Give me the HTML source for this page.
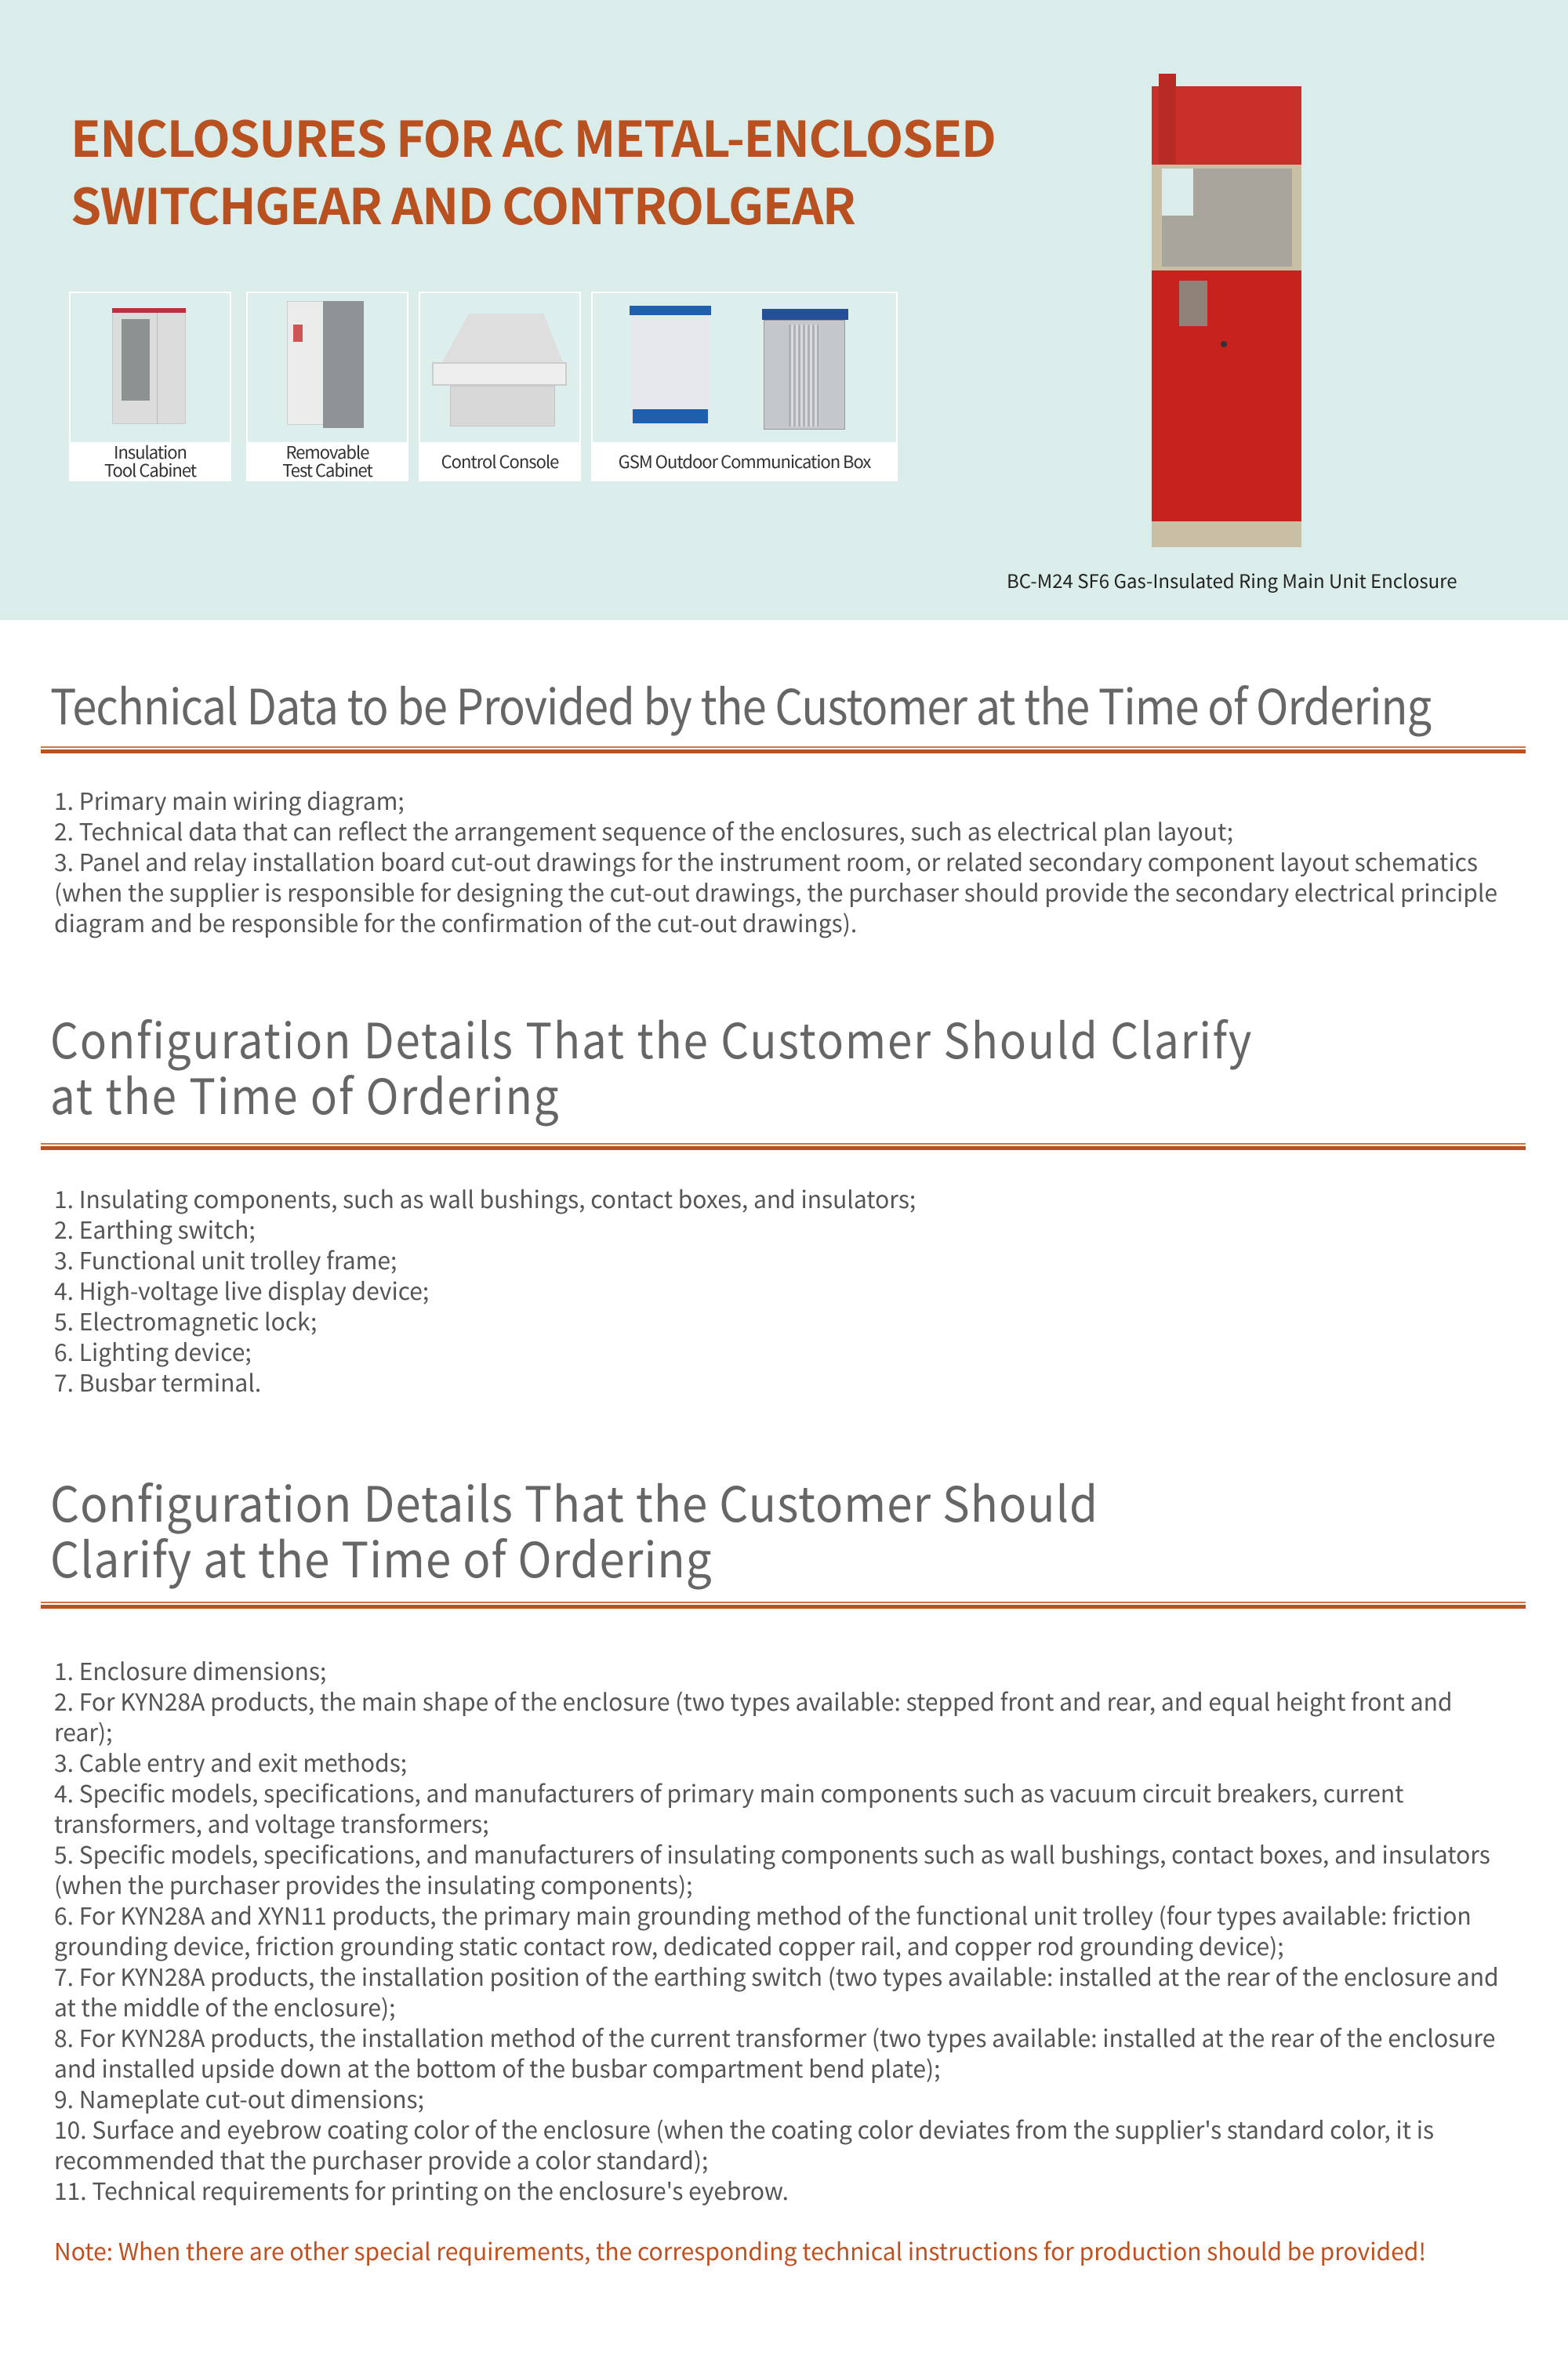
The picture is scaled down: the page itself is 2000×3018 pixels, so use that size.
<!DOCTYPE html>
<html><head><meta charset="utf-8"><style>
*{margin:0;padding:0;box-sizing:border-box}
body{width:2000px;height:3018px;background:#fff;position:relative;overflow:hidden;font-family:"Noto Sans CJK SC","Liberation Sans",sans-serif}
.abs{position:absolute}
.banner{left:0;top:0;width:2000px;height:791px;background:#daedeb}
.title{left:90px;top:131px;font-size:63px;line-height:86px;font-weight:700;color:#b8501f;white-space:nowrap;letter-spacing:-1.5px}
.card{background:#fff;border:2px solid #fff}
.card .img{position:absolute;left:0;top:0;right:0;height:190px;background:#dcefed}
.card .cap{position:absolute;left:0;right:0;top:190px;bottom:0;display:flex;align-items:center;justify-content:center;text-align:center;font-size:22px;line-height:23px;color:#333;letter-spacing:-1px}
.h{left:64px;font-size:62px;line-height:71px;color:#666;white-space:nowrap;transform-origin:0 0}
.rule{left:52px;width:1894px;height:10px}
.rule:before{content:"";position:absolute;left:0;right:0;top:0;height:2px;background:#d2743f}
.rule:after{content:"";position:absolute;left:0;right:0;top:4px;height:5px;background:#b8501f}
.list{left:69px;font-size:30px;line-height:39px;color:#555;white-space:nowrap}
</style></head><body>
<div class="abs banner"></div>
<div class="abs title">ENCLOSURES FOR AC METAL-ENCLOSED<br>SWITCHGEAR AND CONTROLGEAR</div>

<div class="abs card" style="left:88px;top:372px;width:207px;height:242px">
 <div class="img">
  <div class="abs" style="left:53px;top:19px;width:94px;height:148px;background:#dcdcdc;border:1px solid #c8c8c8"></div>
  <div class="abs" style="left:53px;top:19px;width:94px;height:6px;background:#c0303a"></div>
  <div class="abs" style="left:65px;top:33px;width:36px;height:104px;background:#8c9292"></div>
  <div class="abs" style="left:110px;top:25px;width:1px;height:142px;background:#bbb"></div>
 </div>
 <div class="cap">Insulation<br>Tool Cabinet</div>
</div>
<div class="abs card" style="left:314px;top:372px;width:207px;height:242px">
 <div class="img">
  <div class="abs" style="left:50px;top:10px;width:48px;height:158px;background:#ececec;border:1px solid #ccc"></div>
  <div class="abs" style="left:96px;top:10px;width:52px;height:162px;background:#8e9495"></div>
  <div class="abs" style="left:58px;top:40px;width:12px;height:22px;background:#c55"></div>
 </div>
 <div class="cap">Removable<br>Test Cabinet</div>
</div>
<div class="abs card" style="left:534px;top:372px;width:207px;height:242px">
 <div class="img">
  <div class="abs" style="left:28px;top:26px;width:154px;height:62px;background:#dedede;clip-path:polygon(22% 0,84% 0,100% 100%,0 100%)"></div>
  <div class="abs" style="left:15px;top:88px;width:172px;height:30px;background:#eee;border:2px solid #ccc"></div>
  <div class="abs" style="left:38px;top:118px;width:134px;height:52px;background:#d8d8d8;border:1px solid #c4c4c4"></div>
 </div>
 <div class="cap">Control Console</div>
</div>
<div class="abs card" style="left:754px;top:372px;width:391px;height:242px">
 <div class="img">
  <div class="abs" style="left:49px;top:18px;width:100px;height:150px;background:#e6e8ee;border-radius:4px"></div>
  <div class="abs" style="left:47px;top:16px;width:104px;height:12px;background:#1f5fb0"></div>
  <div class="abs" style="left:51px;top:148px;width:96px;height:18px;background:#1f5fb0"></div>
  <div class="abs" style="left:216px;top:20px;width:110px;height:14px;background:#264f9a"></div>
  <div class="abs" style="left:218px;top:34px;width:104px;height:140px;background:#c4c8cc;border:1px solid #999"></div>
  <div class="abs" style="left:250px;top:40px;width:40px;height:130px;background:repeating-linear-gradient(90deg,#aeb2b6 0 3px,#d8dadc 3px 6px)"></div>
 </div>
 <div class="cap">GSM Outdoor Communication Box</div>
</div>

<div class="abs" style="left:1469px;top:208px;width:191px;height:490px;background:#c9bfa4"></div>
<div class="abs" style="left:1482px;top:215px;width:166px;height:125px;background:#a8a59c"></div>
<div class="abs" style="left:1482px;top:215px;width:40px;height:60px;background:#daedeb"></div>
<div class="abs" style="left:1469px;top:110px;width:191px;height:100px;background:#c9302a"></div>
<div class="abs" style="left:1478px;top:94px;width:22px;height:115px;background:#b82a24"></div>
<div class="abs" style="left:1469px;top:345px;width:191px;height:320px;background:#c8221e"></div>
<div class="abs" style="left:1504px;top:358px;width:36px;height:58px;background:#8e8276"></div>
<div class="abs" style="left:1557px;top:435px;width:8px;height:8px;border-radius:50%;background:#333"></div>
<div class="abs" style="left:1284px;top:724px;font-size:24px;line-height:32px;color:#222;white-space:nowrap">BC-M24 SF6 Gas-Insulated Ring Main Unit Enclosure</div>

<div class="abs h" style="top:862px;letter-spacing:-1px;transform:scaleX(0.9)">Technical Data to be Provided by the Customer at the Time of Ordering</div>
<div class="abs rule" style="top:952px"></div>
<div class="abs list" style="top:1001px">1. Primary main wiring diagram;<br>2. Technical data that can reflect the arrangement sequence of the enclosures, such as electrical plan layout;<br>3. Panel and relay installation board cut-out drawings for the instrument room, or related secondary component layout schematics<br>(when the supplier is responsible for designing the cut-out drawings, the purchaser should provide the secondary electrical principle<br>diagram and be responsible for the confirmation of the cut-out drawings).</div>

<div class="abs h" style="top:1288px;letter-spacing:2px;transform:scaleX(0.911)">Configuration Details That the Customer Should Clarify<br>at the Time of Ordering</div>
<div class="abs rule" style="top:1458px"></div>
<div class="abs list" style="top:1509px">1. Insulating components, such as wall bushings, contact boxes, and insulators;<br>2. Earthing switch;<br>3. Functional unit trolley frame;<br>4. High-voltage live display device;<br>5. Electromagnetic lock;<br>6. Lighting device;<br>7. Busbar terminal.</div>

<div class="abs h" style="top:1879px;letter-spacing:1px;transform:scaleX(0.94)">Configuration Details That the Customer Should<br>Clarify at the Time of Ordering</div>
<div class="abs rule" style="top:2043px"></div>
<div class="abs list" style="top:2111px">1. Enclosure dimensions;<br>2. For KYN28A products, the main shape of the enclosure (two types available: stepped front and rear, and equal height front and<br>rear);<br>3. Cable entry and exit methods;<br>4. Specific models, specifications, and manufacturers of primary main components such as vacuum circuit breakers, current<br>transformers, and voltage transformers;<br>5. Specific models, specifications, and manufacturers of insulating components such as wall bushings, contact boxes, and insulators<br>(when the purchaser provides the insulating components);<br>6. For KYN28A and XYN11 products, the primary main grounding method of the functional unit trolley (four types available: friction<br>grounding device, friction grounding static contact row, dedicated copper rail, and copper rod grounding device);<br>7. For KYN28A products, the installation position of the earthing switch (two types available: installed at the rear of the enclosure and<br>at the middle of the enclosure);<br>8. For KYN28A products, the installation method of the current transformer (two types available: installed at the rear of the enclosure<br>and installed upside down at the bottom of the busbar compartment bend plate);<br>9. Nameplate cut-out dimensions;<br>10. Surface and eyebrow coating color of the enclosure (when the coating color deviates from the supplier's standard color, it is<br>recommended that the purchaser provide a color standard);<br>11. Technical requirements for printing on the enclosure's eyebrow.</div>
<div class="abs list" style="top:2851px;color:#c0501f">Note: When there are other special requirements, the corresponding technical instructions for production should be provided!</div>
</body></html>
